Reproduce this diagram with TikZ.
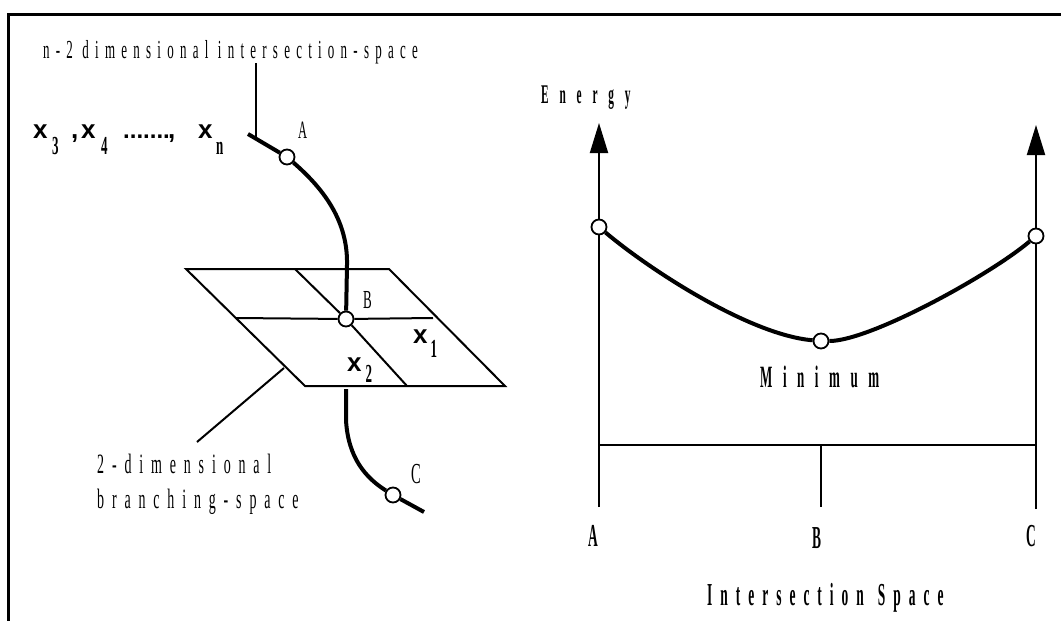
\documentclass[tikz,border=0pt]{standalone}
\usepackage{fontspec}
\setmainfont{Liberation Serif}
\setsansfont{Liberation Sans}
\newfontfamily\condr[FakeStretch=0.5]{Liberation Serif}
\newfontfamily\condb[FakeStretch=0.42]{Liberation Serif Bold}
\usetikzlibrary{arrows.meta}
\newcommand\ctxt[3]{\fontsize{#1}{#1}\selectfont\addfontfeatures{LetterSpace=#2}#3}
\newcommand\bx{\fontsize{26}{26}\selectfont\sffamily\bfseries}
\newcommand\sub[2]{\lower#1pt\hbox{\condr\fontsize{26}{26}\selectfont #2}}
\newcommand\at[2]{\makebox[#1pt][l]{#2}}
\tikzset{
  lbl/.style={inner sep=0pt, anchor=base west},
  pt/.style={circle, draw, fill=white, line width=1.8pt, minimum size=15pt, inner sep=0pt},
  fine/.style={line width=2pt},
  heavy/.style={line width=4pt},
  frame/.style={line width=3pt},
  axis/.style={line width=2pt, -{Triangle[length=30pt,width=18pt]}}
}
\begin{document}
\begin{tikzpicture}[x=1pt, y=-1pt]
\useasboundingbox (0,0) rectangle (1061,621);
\draw[frame] (1061,14.5) -- (8.5,14.5) -- (8.5,621);

% ---------- left part ----------
\node[lbl] (title) at (43,58) {\condr\ctxt{26}{24}{n-2 dimensional intersection-space}};
\node[lbl] (xs) at (33,138) {\bx\at{19}{x}\at{19}{\sub{16}{3}}\at{10}{,}\at{20}{x}\at{22}{\sub{16}{4}}\at{45}{\fontsize{24}{24}\selectfont.......}\at{30}{,}\at{18}{x}\sub{16}{n}};

\coordinate (lead0) at (256,63);
\coordinate (s0) at (248,134);
\coordinate (lead1) at (256,139);
\draw[fine] (lead0) -- (lead1);

% plane
\coordinate (p1) at (186,269);
\coordinate (p2) at (389,269);
\coordinate (p3) at (505,386);
\coordinate (p4) at (305,386);
\draw[fine] (p1) -- (p2) -- (p3) -- (p4) -- cycle;

\node[pt] (A) at (287,157) {};
\node[pt] (B) at (346,319) {};
\node[pt] (C) at (393,495) {};

\coordinate (m1) at (236,318);
\coordinate (m2) at (433,318);
\coordinate (d1) at (295,269);
\coordinate (d2) at (407,386);
\draw[fine] (m1) -- (B) -- (m2);
\draw[fine] (d1) -- (B) -- (d2);

\draw[heavy] (s0) -- (A);
\draw[heavy] (A) .. controls (325,190) and (348,222) .. (347,265) -- (B);
\coordinate (e0) at (346,389);
\coordinate (e1) at (424,512);
\draw[heavy] (e0) -- (346,420) .. controls (348,458) and (366,478) .. (C);
\draw[heavy] (C) -- (e1);

\node[lbl] (la) at (298,138) {\condr\ctxt{25}{0}{A}};
\node[lbl] (lb) at (363,308) {\condr\ctxt{26}{0}{B}};
\node[lbl] (lc) at (411,483) {\condr\ctxt{29}{0}{C}};

\node[lbl] (x1) at (413,343) {\bx x\hspace{3pt}\sub{14}{1}};
\node[lbl] (x2) at (347,371) {\bx x\hspace{4pt}\sub{11}{2}};

\coordinate (br0) at (284,368);
\coordinate (br1) at (197,442);
\draw[fine] (br0) -- (br1);
\node[lbl] (bs1) at (97,473) {\condr\ctxt{28}{28}{2-dimensional}};
\node[lbl] (bs2) at (97,508) {\condr\ctxt{28}{28}{branching-space}};

% ---------- right part ----------
\node[lbl] (energy) at (541,103) {\condb\ctxt{27}{40}{Energy}};
\coordinate (ya0) at (599,507);
\coordinate (ya1) at (599,123);
\coordinate (yc0) at (1036,509);
\coordinate (yc1) at (1036,125);
\draw[axis] (ya0) -- (ya1);
\draw[axis] (yc0) -- (yc1);
\coordinate (h0) at (599,445);
\coordinate (h1) at (1036,445);
\coordinate (hb) at (821,445);
\coordinate (tb) at (821,507);
\draw[fine] (h0) -- (h1);
\draw[fine] (hb) -- (tb);

\node[pt] (EA) at (599,227) {};
\node[pt] (EM) at (821,341) {};
\node[pt] (EC) at (1036,236) {};
\draw[heavy] (EA) .. controls (650,270) and (750,335) .. (EM);
\draw[heavy] (EM) .. controls (870,341) and (990,275) .. (EC);

\node[lbl] (mini) at (760,387) {\condb\ctxt{31}{34}{Minimum}};
\node[lbl] (ra) at (588,546) {\condb\ctxt{32}{0}{A}};
\node[lbl] (rb) at (812,548) {\condb\ctxt{32}{0}{B}};
\node[lbl] (rc) at (1026,546) {\condb\ctxt{32}{0}{C}};
\node[lbl] (isp) at (707,605) {\condb\ctxt{32}{25}{Intersection\hspace{14pt}Space}};
\end{tikzpicture}
\end{document}
